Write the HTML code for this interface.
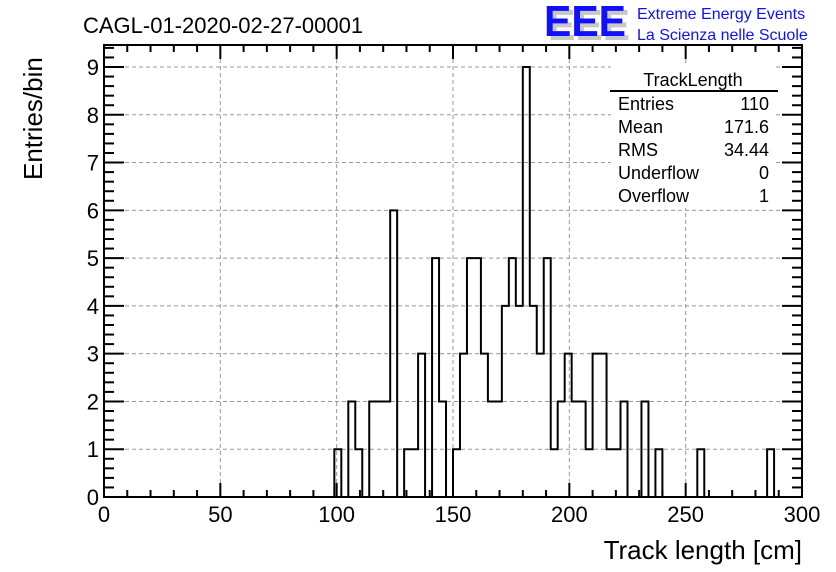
<!DOCTYPE html>
<html><head><meta charset="utf-8"><style>
html,body{margin:0;padding:0;background:#fff;}
svg{display:block;font-family:"Liberation Sans",sans-serif;}
</style></head><body>
<svg id="chart" width="836" height="572" viewBox="0 0 836 572" xmlns="http://www.w3.org/2000/svg">
<rect width="836" height="572" fill="#fff"/>
<text x="83" y="33" font-size="22">CAGL-01-2020-02-27-00001</text>
<g>
<text x="548" y="40" font-size="44" font-weight="bold" fill="#c8c8c8" textLength="82" lengthAdjust="spacingAndGlyphs">EEE</text>
<text x="544" y="36" font-size="44" font-weight="bold" fill="#1010ff" textLength="82" lengthAdjust="spacingAndGlyphs">EEE</text>
<text x="637" y="19" font-size="16" fill="#1010ff">Extreme Energy Events</text>
<text x="637" y="40" font-size="16" fill="#1010ff">La Scienza nelle Scuole</text>
</g>
<g id="grid"></g>
<g id="hist"></g>
<g id="axes"></g>
<g font-size="18">
<rect x="611" y="66" width="165" height="142" fill="#fff"/>
<text x="693" y="86" text-anchor="middle">TrackLength</text>
<line x1="610" y1="91" x2="778" y2="91" stroke="#000" stroke-width="2"/>
<text x="618" y="110">Entries</text><text x="769" y="110" text-anchor="end">110</text>
<text x="618" y="133">Mean</text><text x="769" y="133" text-anchor="end">171.6</text>
<text x="618" y="156">RMS</text><text x="769" y="156" text-anchor="end">34.44</text>
<text x="618" y="179">Underflow</text><text x="769" y="179" text-anchor="end">0</text>
<text x="618" y="202">Overflow</text><text x="769" y="202" text-anchor="end">1</text>
</g>
<text x="802" y="559" font-size="26" text-anchor="end">Track length [cm]</text>
<text transform="translate(42,180) rotate(-90)" font-size="26" text-anchor="start">Entries/bin</text>
</svg>
<script>
const binCounts = [0,0,0,0,0,0,0,0,0,0, 0,0,0,0,0,0,0,0,0,0, 0,0,0,0,0,0,0,0,0,0, 0,0,0,1,0,2,1,0,2,2,
 2,6,0,1,1,3,0,5,2,0, 1,3,5,5,3,2,2,4,5,4, 9,4,3,5,1,2,3,2,2,1, 3,3,1,1,2,0,0,2,0,1, 0,0,0,0,0,1,0,0,0,0, 0,0,0,0,0,1,0,0,0,0];
const xTicks = [0,50,100,150,200,250,300];
const yTicks = [0,1,2,3,4,5,6,7,8,9];
const xMin=0, xMax=300, yMin=0, yMax=9;
const L=104,R=802,T=45,B=497,Y9=67;
const sx=v=>L+(v-xMin)/(xMax-xMin)*(R-L);
const sy=v=>B-(v-yMin)/(yMax-yMin)*(B-Y9);
const NS="http://www.w3.org/2000/svg";
function mk(tag,attrs,parent){const e=document.createElementNS(NS,tag);for(const k in attrs)e.setAttribute(k,attrs[k]);parent.appendChild(e);return e;}
const grid=document.getElementById('grid'),axes=document.getElementById('axes'),hist=document.getElementById('hist');
xTicks.forEach(t=>{if(t>xMin&&t<xMax){const l=mk('line',{x1:sx(t),x2:sx(t),y1:T,y2:B,stroke:'#999','stroke-dasharray':'4,3','stroke-width':1},grid);

}});
yTicks.forEach(t=>{if(t>yMin){const l=mk('line',{x1:L,x2:R,y1:sy(t),y2:sy(t),stroke:'#999','stroke-dasharray':'4,3','stroke-width':1},grid);

}});
const bw=(xMax-xMin)/binCounts.length;
let d='M'+sx(xMin)+','+sy(0);
binCounts.forEach((c,i)=>{const x0=sx(xMin+i*bw),x1=sx(xMin+(i+1)*bw);d+=' L'+x0+','+sy(c)+' L'+x1+','+sy(c);});
d+=' L'+sx(xMax)+','+sy(0);
const p=mk('path',{d:d,fill:'none',stroke:'#000','stroke-width':2},hist);


const fr=mk('rect',{x:L,y:T,width:R-L,height:B-T,fill:'none',stroke:'#000','stroke-width':2},axes);


for(let v=xMin;v<=xMax;v+=10){const maj=v%50===0;const len=maj?14:7;
mk('line',{x1:sx(v),x2:sx(v),y1:B,y2:B-len,stroke:'#000','stroke-width':2},axes);
mk('line',{x1:sx(v),x2:sx(v),y1:T,y2:T+len,stroke:'#000','stroke-width':2},axes);}
for(let v=0;v<=9.4;v+=0.2){const y=sy(v);if(y<T)break;const maj=Math.abs(v-Math.round(v))<1e-6;const len=maj?20:10;
mk('line',{x1:L,x2:L+len,y1:y,y2:y,stroke:'#000','stroke-width':2},axes);
mk('line',{x1:R,x2:R-len,y1:y,y2:y,stroke:'#000','stroke-width':2},axes);}
xTicks.forEach(t=>{const tx=mk('text',{x:sx(t),y:B+25,'font-size':22,'text-anchor':'middle'},axes);tx.textContent=t;

});
yTicks.forEach(t=>{const tx=mk('text',{x:L-5,y:sy(t)+8,'font-size':22,'text-anchor':'end'},axes);tx.textContent=t;

});
</script>
</body></html>
